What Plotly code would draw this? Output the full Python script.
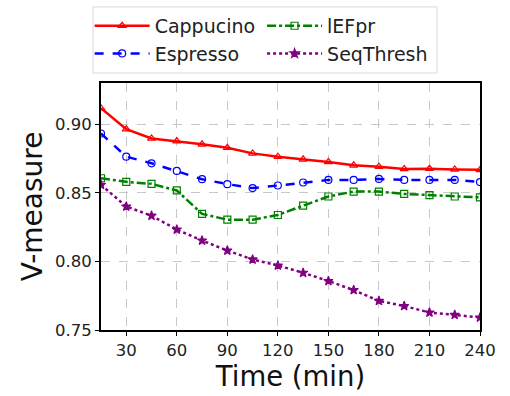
import plotly.graph_objects as go

time_min = [15, 30, 45, 60, 75, 90, 105, 120, 135, 150, 165, 180, 195, 210, 225, 240]
cappucino = [0.9116, 0.8964, 0.8896, 0.8877, 0.8853, 0.8828, 0.8787, 0.8763, 0.8744, 0.8725, 0.8700, 0.8690, 0.8674, 0.8676, 0.8670, 0.8667]
espresso = [0.8932, 0.8763, 0.8715, 0.8659, 0.8599, 0.8563, 0.8534, 0.8553, 0.8575, 0.8594, 0.8594, 0.8601, 0.8594, 0.8594, 0.8594, 0.8578]
lefpr = [0.8606, 0.8580, 0.8565, 0.8517, 0.8346, 0.8304, 0.8304, 0.8338, 0.8406, 0.8473, 0.8509, 0.8509, 0.8492, 0.8483, 0.8473, 0.8466]
seqthresh = [0.8558, 0.8400, 0.8333, 0.8232, 0.8152, 0.8079, 0.8014, 0.7970, 0.7917, 0.7857, 0.7791, 0.7712, 0.7675, 0.7627, 0.7610, 0.7591]

x_ticks = [30, 60, 90, 120, 150, 180, 210, 240]
y_ticks = [0.75, 0.80, 0.85, 0.90]

FONT = "DejaVu Sans"

series = [
    ("Cappucino", cappucino, "#ff0000", "solid", "triangle-up-open", "legend"),
    ("Espresso", espresso, "#0000ff", "dash", "circle-open", "legend"),
    ("lEFpr", lefpr, "#008000", "dashdot", "square-open", "legend2"),
    ("SeqThresh", seqthresh, "#800080", "dot", "star", "legend2"),
]

fig = go.Figure()
for name, vals, color, dash, symbol, leg in series:
    fig.add_trace(go.Scatter(
        x=time_min, y=vals, name=name, mode="lines+markers",
        line=dict(color=color, width=2.5, dash=dash),
        marker=dict(symbol=symbol, size=7, color=color, line=dict(color=color, width=1.2)),
        legend=leg, legendgroup=name,
    ))

axis_common = dict(
    showline=True, linecolor="black", linewidth=2, mirror=True,
    showgrid=True, gridcolor="#c8c8c8", griddash="dash", gridwidth=1,
    ticks="outside", ticklen=4, tickcolor="black",
    tickfont=dict(family=FONT, size=16.5, color="#222"),
    zeroline=False, automargin=False,
)

legend_common = dict(
    orientation="v", yanchor="top", xanchor="left",
    bgcolor="rgba(0,0,0,0)", borderwidth=0,
    font=dict(family=FONT, size=19, color="#222"),
    tracegroupgap=0, itemwidth=55,
)

fig.update_layout(
    width=510, height=396,
    margin=dict(l=101, r=30, t=83, b=66, autoexpand=False),
    paper_bgcolor="white", plot_bgcolor="white",
    font=dict(family=FONT),
    xaxis=dict(range=[15, 240], tickvals=x_ticks,
               title=dict(text="Time (min)", font=dict(family=FONT, size=27.5, color="#111"), standoff=2),
               **axis_common),
    yaxis=dict(range=[0.75, 0.93], tickvals=y_ticks, tickformat=".2f",
               title=dict(text="V-measure", font=dict(family=FONT, size=28, color="#111"), standoff=4),
               **axis_common),
    legend=dict(x=-0.03, y=1.308, **legend_common),
    legend2=dict(x=0.425, y=1.308, **legend_common),
    showlegend=True,
    shapes=[dict(type="rect", xref="paper", yref="paper",
                 x0=-0.0211, x1=0.8865, y0=1.0405, y1=1.308,
                 line=dict(color="#d8d8d8", width=1), fillcolor="rgba(0,0,0,0)")],
)

fig.write_html("out.html")
